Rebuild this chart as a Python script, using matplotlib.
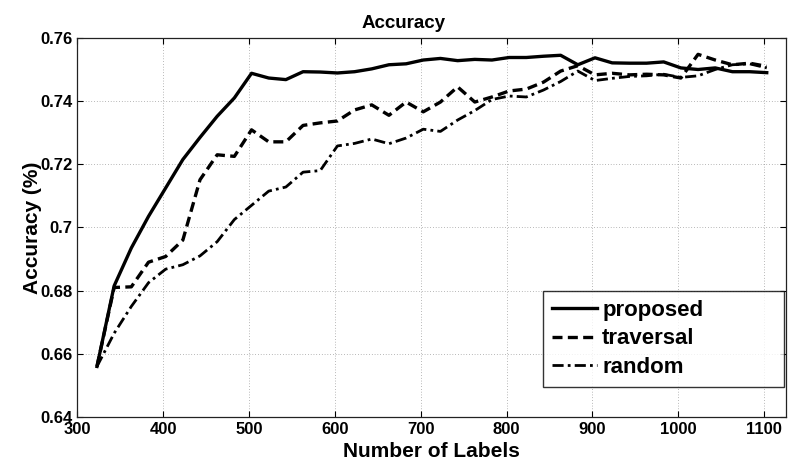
import numpy as np
import matplotlib
matplotlib.use("Agg")
import matplotlib.pyplot as plt
from matplotlib.ticker import FormatStrFormatter

plt.rcParams['font.family'] = ['Liberation Sans', 'DejaVu Sans']
plt.rcParams['font.weight'] = 'bold'

# number of labels
n_labels = [323, 343, 363, 383, 403, 423, 443, 463, 483, 503,
            523, 543, 563, 583, 603, 623, 643, 663, 683, 703,
            723, 743, 763, 783, 803, 823, 843, 863, 883, 903,
            923, 943, 963, 983, 1003, 1023, 1043, 1063, 1083, 1103]

proposed = [0.656, 0.6815, 0.6935, 0.7035, 0.7125, 0.7215, 0.7285, 0.7352, 0.741, 0.7488,
            0.7473, 0.7468, 0.7493, 0.7492, 0.7489, 0.7493, 0.7502, 0.7515, 0.7518, 0.7530,
            0.7535, 0.7528, 0.7532, 0.7530, 0.7538, 0.7538, 0.7542, 0.7545, 0.7515, 0.7537,
            0.7521, 0.7520, 0.7520, 0.7524, 0.7505, 0.7500, 0.7505, 0.7493, 0.7493, 0.7490]

traversal = [0.656, 0.681, 0.6812, 0.689, 0.6908, 0.696, 0.7151, 0.723, 0.7225, 0.7309,
             0.7271, 0.7271, 0.7323, 0.7331, 0.7337, 0.7372, 0.7388, 0.7355, 0.7397, 0.7366,
             0.7397, 0.7445, 0.7397, 0.7413, 0.7432, 0.7438, 0.746, 0.7495, 0.7512, 0.7483,
             0.7488, 0.7483, 0.7485, 0.7483, 0.7473, 0.7548, 0.7530, 0.7515, 0.7520, 0.7510]

random_sel = [0.656, 0.6665, 0.675, 0.6825, 0.6868, 0.6882, 0.691, 0.6955, 0.7025, 0.707,
              0.7115, 0.7128, 0.7175, 0.718, 0.7258, 0.7266, 0.728, 0.7265, 0.7283, 0.7311,
              0.7304, 0.734, 0.737, 0.7405, 0.7416, 0.7413, 0.7435, 0.7462, 0.7495, 0.7465,
              0.7472, 0.7478, 0.748, 0.7485, 0.7475, 0.7480, 0.7500, 0.7515, 0.7518, 0.7505]

xticks = [300, 400, 500, 600, 700, 800, 900, 1000, 1100]
yticks = [0.64, 0.66, 0.68, 0.70, 0.72, 0.74, 0.76]

fig = plt.figure(figsize=(7.88, 4.68), dpi=100)
ax = fig.add_axes([0.098, 0.109, 0.899, 0.81])

ax.plot(n_labels, proposed, color='black', lw=2.4, ls='-', label='proposed')
ax.plot(n_labels, traversal, color='black', lw=2.4, ls=(0, (3, 1.6)), label='traversal')
ax.plot(n_labels, random_sel, color='black', lw=2.0, ls=(0, (4, 1.5, 1, 1.5)), label='random')

ax.set_xlim(300, 1125)
ax.set_ylim(0.64, 0.76)
ax.set_xticks(xticks)
ax.set_yticks(yticks)
ax.yaxis.set_major_formatter(FormatStrFormatter('%g'))
ax.tick_params(direction='in', top=True, right=True, labelsize=12, length=4, width=0.8)
for lab in ax.get_xticklabels() + ax.get_yticklabels():
    lab.set_fontweight('bold')
ax.grid(True, ls=(0, (1, 3)), color='#777777', lw=0.5)
for sp in ax.spines.values():
    sp.set_linewidth(0.9)
    sp.set_color('#222222')

ax.set_title('Accuracy', fontsize=13.5, fontweight='bold', x=0.461, pad=7)
ax.set_xlabel('Number of Labels', fontsize=15, fontweight='bold', labelpad=4)
ax.set_ylabel('Accuracy (%)', fontsize=15, fontweight='bold', labelpad=-1.5)

leg = ax.legend(loc='lower left', bbox_to_anchor=(0.658, 0.079, 0.339, 0.253),
                mode='expand', fontsize=16, frameon=True, fancybox=False,
                edgecolor='black', handlelength=2.0, handletextpad=0.25,
                borderpad=0.4, labelspacing=0.35, borderaxespad=0)
leg.get_frame().set_linewidth(1.0)
for t in leg.get_texts():
    t.set_fontweight('bold')

fig.savefig('out.png', dpi=100)
